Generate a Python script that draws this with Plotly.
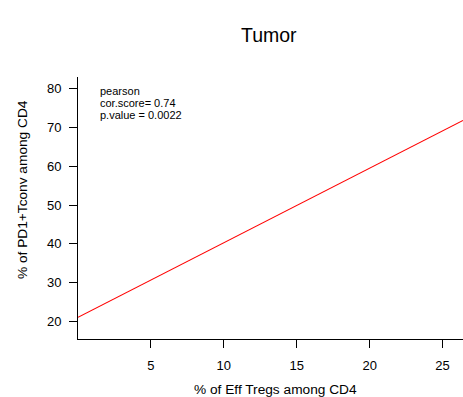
import plotly.graph_objects as go

# Regression line
x_line = [0.0, 26.4]
y_line = [21.1, 71.8]

x_ticks = [5, 10, 15, 20, 25]
y_ticks = [20, 30, 40, 50, 60, 70, 80]

title = "Tumor"
x_title = "% of Eff Tregs among CD4"
y_title = "% of PD1+Tconv among CD4"
stats_lines = ["pearson", "cor.score= 0.74", "p.value = 0.0022"]

FONT = "Liberation Sans, Arial, Helvetica, sans-serif"

fig = go.Figure()
fig.add_trace(go.Scatter(x=x_line, y=y_line, mode="lines",
                         line=dict(color="#FF0000", width=1.1),
                         showlegend=False, hoverinfo="skip"))

W, H = 463, 397
L, R, T, B = 78, 0, 77, 58
PW, PH = W - L - R, H - T - B

fig.update_layout(
    width=W, height=H,
    margin=dict(l=L, r=R, t=T, b=B, pad=0),
    paper_bgcolor="white", plot_bgcolor="white",
    font=dict(family=FONT, color="black", size=12),
    showlegend=False,
    xaxis=dict(range=[0, 26.4], tickvals=x_ticks, ticktext=[str(v) for v in x_ticks],
               showgrid=False, zeroline=False, showline=True, linecolor="black",
               linewidth=1, ticks="outside", ticklen=8, tickwidth=1, tickcolor="black",
               tickfont=dict(size=13), ticklabelstandoff=6),
    yaxis=dict(range=[15.5, 83.0], tickvals=y_ticks, ticktext=[str(v) for v in y_ticks],
               showgrid=False, zeroline=False, showline=True, linecolor="black",
               linewidth=1, ticks="outside", ticklen=8, tickwidth=1, tickcolor="black",
               tickfont=dict(size=13), ticklabelstandoff=5),
)

ann = []
ann.append(dict(text=title, xref="paper", yref="paper",
                x=(269 - L) / PW, y=1 + (T - 35) / PH,
                xanchor="center", yanchor="middle", showarrow=False,
                font=dict(size=19.5, family=FONT)))
ann.append(dict(text=x_title, xref="paper", yref="paper",
                x=(275 - L) / PW, y=-(389 - (H - B)) / PH,
                xanchor="center", yanchor="middle", showarrow=False,
                font=dict(size=13.7, family=FONT)))
ann.append(dict(text=y_title, xref="paper", yref="paper",
                x=-(L - 22) / PW, y=((H - B) - 190) / PH,
                xanchor="center", yanchor="middle", showarrow=False, textangle=-90,
                font=dict(size=13.7, family=FONT)))
for i, line in enumerate(stats_lines):
    yc = 91.5 + i * 11.7
    ann.append(dict(text=line, xref="paper", yref="paper",
                    x=(98 - L) / PW, y=((H - B) - yc) / PH,
                    xanchor="left", yanchor="middle", align="left", showarrow=False,
                    font=dict(size=11, family=FONT)))
fig.update_layout(annotations=ann)

fig.write_html("out.html")
